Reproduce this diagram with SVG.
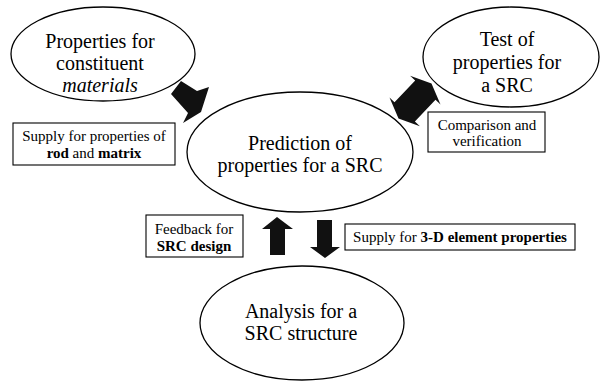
<svg xmlns="http://www.w3.org/2000/svg" width="603" height="382" viewBox="0 0 603 382">
<style>
.ell{fill:#fff;stroke:#000;stroke-width:1.3}
.box{fill:#fff;stroke:#000;stroke-width:1.1}
.big{font-family:"Liberation Serif","Times New Roman",serif;font-size:20px;fill:#000;text-anchor:middle}
.sm{font-family:"Liberation Serif","Times New Roman",serif;font-size:15px;fill:#000;text-anchor:middle}
.b{font-weight:bold}
.arr{fill:#111;stroke:none}
</style>
<rect width="603" height="382" fill="#fff"/>
<g id="connectors">
<polygon class="arr" points="181,81 197,91 209,87 201,112 183,123 188,113 171,94"/>
<polygon class="arr" points="431.5,83.6 440.5,104.5 435.5,99.7 414.9,121.5 419.9,126.3 398.5,118.4 389.5,97.5 394.5,102.3 415.2,80.5 410.1,75.7"/>
<polygon class="arr" points="277,217 293,229 285,229 285,255 270,255 270,229 262,229"/>
<polygon class="arr" points="317,220 332,220 332,247 340,247 325,258 310,247 317,247"/>
</g>
<g id="node-materials">
<ellipse class="ell" cx="103" cy="54" rx="92" ry="47"/>
<text class="big" x="100" y="48">Properties for</text>
<text class="big" x="100" y="70">constituent</text>
<text class="big" x="100" y="92" font-style="italic">materials</text>
</g>
<g id="node-test">
<ellipse class="ell" cx="511" cy="57" rx="88" ry="50"/>
<text class="big" x="507" y="46">Test of</text>
<text class="big" x="507" y="69">properties for</text>
<text class="big" x="507" y="92">a SRC</text>
</g>
<g id="node-prediction">
<ellipse class="ell" cx="300" cy="152" rx="113" ry="60"/>
<text class="big" x="300" y="150">Prediction of</text>
<text class="big" x="300" y="172">properties for a SRC</text>
</g>
<g id="node-analysis">
<ellipse class="ell" cx="302" cy="323" rx="102" ry="57"/>
<text class="big" x="301" y="318">Analysis for a</text>
<text class="big" x="301" y="340">SRC structure</text>
</g>
<g id="label-supply-rod">
<rect class="box" x="13" y="123" width="162" height="42"/>
<text class="sm" x="94" y="141">Supply for properties of</text>
<text class="sm" x="94" y="158"><tspan class="b">rod</tspan> and <tspan class="b">matrix</tspan></text>
</g>
<g id="label-comparison">
<rect class="box" x="428" y="112" width="117" height="40"/>
<text class="sm" x="487" y="130">Comparison and</text>
<text class="sm" x="487" y="146">verification</text>
</g>
<g id="label-feedback">
<rect class="box" x="146" y="215" width="97" height="42"/>
<text class="sm" x="194" y="234">Feedback for</text>
<text class="sm b" x="194" y="251">SRC design</text>
</g>
<g id="label-supply-3d">
<rect class="box" x="345" y="224" width="230" height="26"/>
<text class="sm" x="460" y="242">Supply for <tspan class="b">3-D element properties</tspan></text>
</g>
</svg>
